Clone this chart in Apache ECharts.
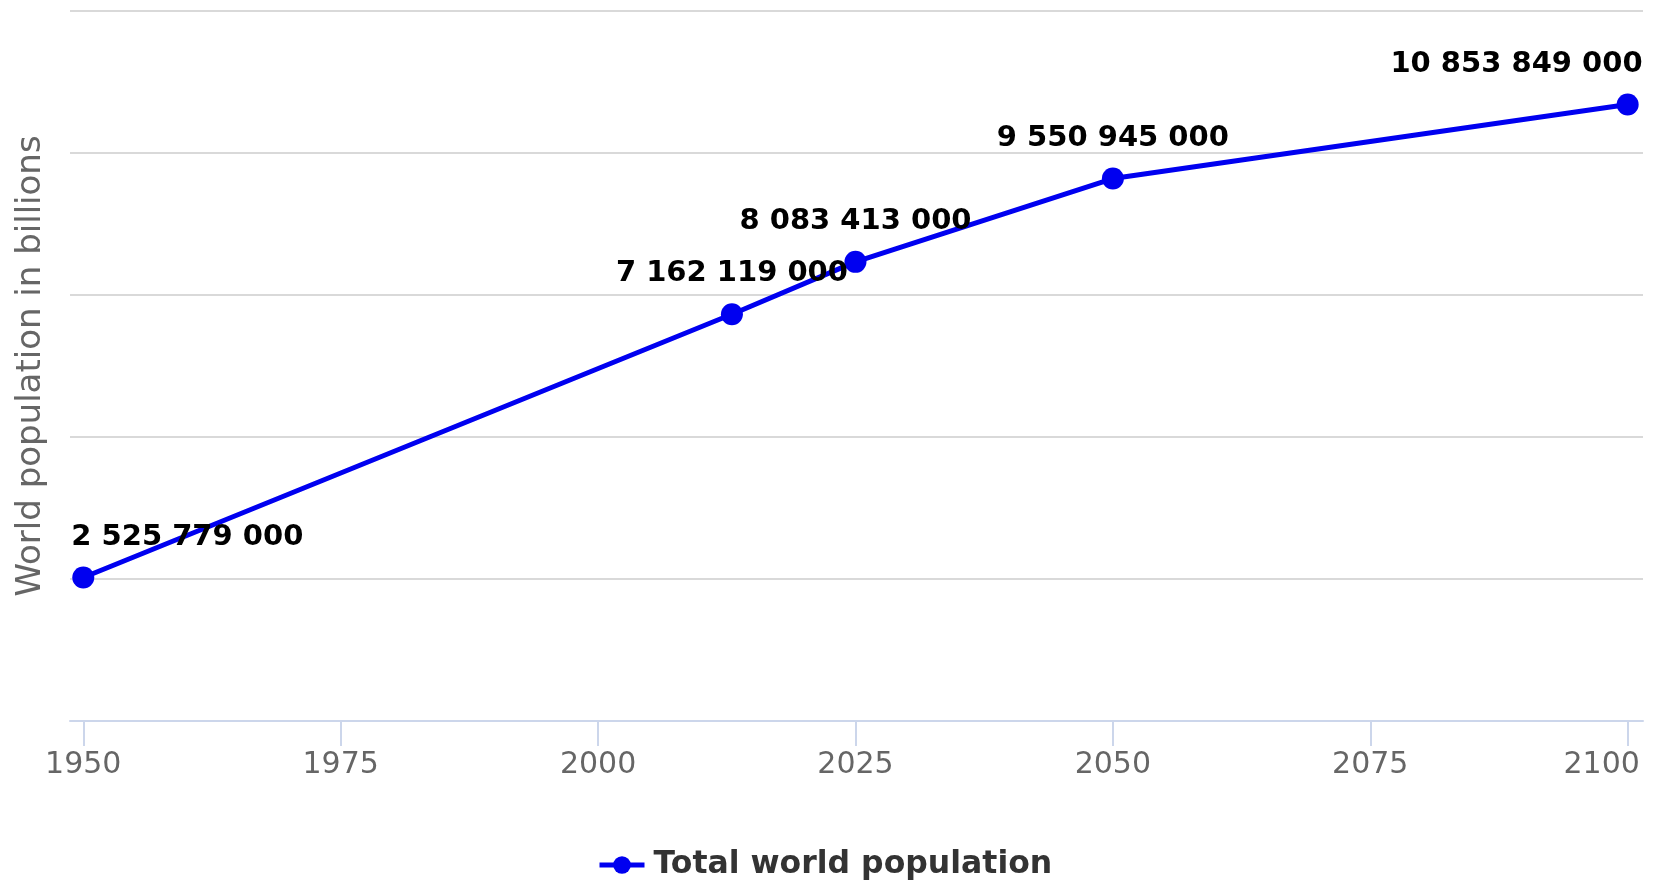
<!DOCTYPE html>
<html>
<head>
<meta charset="utf-8">
<title>World population</title>
<script src="https://cdn.jsdelivr.net/npm/echarts@6/dist/echarts.min.js"></script>
<style>
  html, body { margin: 0; padding: 0; background: #fff; }
  #chart { width: 1660px; height: 885px; }
</style>
</head>
<body>
<div id="chart"></div>
<script>
// data
var years = [1950, 2013, 2025, 2050, 2100];
var population = [2525779000, 7162119000, 8083413000, 9550945000, 10853849000];
var yearTicks = [1950, 1975, 2000, 2025, 2050, 2075, 2100];
var seriesName = 'Total world population';
var axisTitle = 'World population in billions';

var FONT = '"DejaVu Sans", Verdana, sans-serif';

function spaced(n) {
    return String(n).replace(/\B(?=(\d{3})+(?!\d))/g, ' ');
}

// first and last labels are pushed inside the plot, like the original
var points = years.map(function (y, i) {
    var item = { value: [y, population[i] / 1e9], raw: population[i] };
    if (i === 0) item.label = { align: 'left', offset: [-12, 0] };
    if (i === years.length - 1) item.label = { align: 'right', offset: [15, 0] };
    return item;
});

var myChart = echarts.init(document.getElementById('chart'));

myChart.setOption({
    backgroundColor: '#fff',
    animation: false,
    grid: { left: 70, right: 17, top: 11, bottom: 164 },
    legend: {
        data: [seriesName],
        left: 592,
        bottom: -1,
        itemWidth: 45,
        itemHeight: 22,
        lineStyle: { width: 5 },
        textStyle: { color: '#333', fontSize: 31.5, fontWeight: 'bold', fontFamily: FONT, padding: [0, 0, 0, 4] }
    },
    xAxis: {
        type: 'value',
        min: 1948.71,
        max: 2101.49,
        axisLine: { lineStyle: { color: '#ccd6eb', width: 2 } },
        axisTick: { customValues: yearTicks, length: 25, lineStyle: { color: '#ccd6eb', width: 2 } },
        splitLine: { show: false },
        axisLabel: {
            customValues: yearTicks,
            margin: 29,
            color: '#666',
            fontSize: 30,
            fontFamily: FONT,
            formatter: function (v) {
                return v === 2100 ? '{r|' + v + '}' : String(v);
            },
            rich: {
                r: { color: '#666', fontSize: 30, fontFamily: FONT, padding: [0, 52, 0, 0] }
            }
        }
    },
    yAxis: {
        type: 'value',
        min: 0,
        max: 12.5,
        interval: 2.5,
        name: axisTitle,
        nameLocation: 'middle',
        nameRotate: 90,
        nameGap: 22,
        nameTextStyle: { color: '#666', fontSize: 34, fontFamily: FONT },
        axisLine: { show: false },
        axisTick: { show: false },
        axisLabel: { show: false },
        splitLine: { lineStyle: { color: '#d9d9d9', width: 2 } }
    },
    series: [{
        name: seriesName,
        type: 'line',
        data: points,
        symbol: 'circle',
        symbolSize: 22,
        lineStyle: { color: '#0000f0', width: 5 },
        itemStyle: { color: '#0000f0' },
        label: {
            show: true,
            position: 'top',
            distance: 15,
            color: '#000',
            fontSize: 29,
            fontWeight: 'bold',
            fontFamily: FONT,
            formatter: function (p) { return spaced(p.data.raw); }
        }
    }]
});
</script>
</body>
</html>
